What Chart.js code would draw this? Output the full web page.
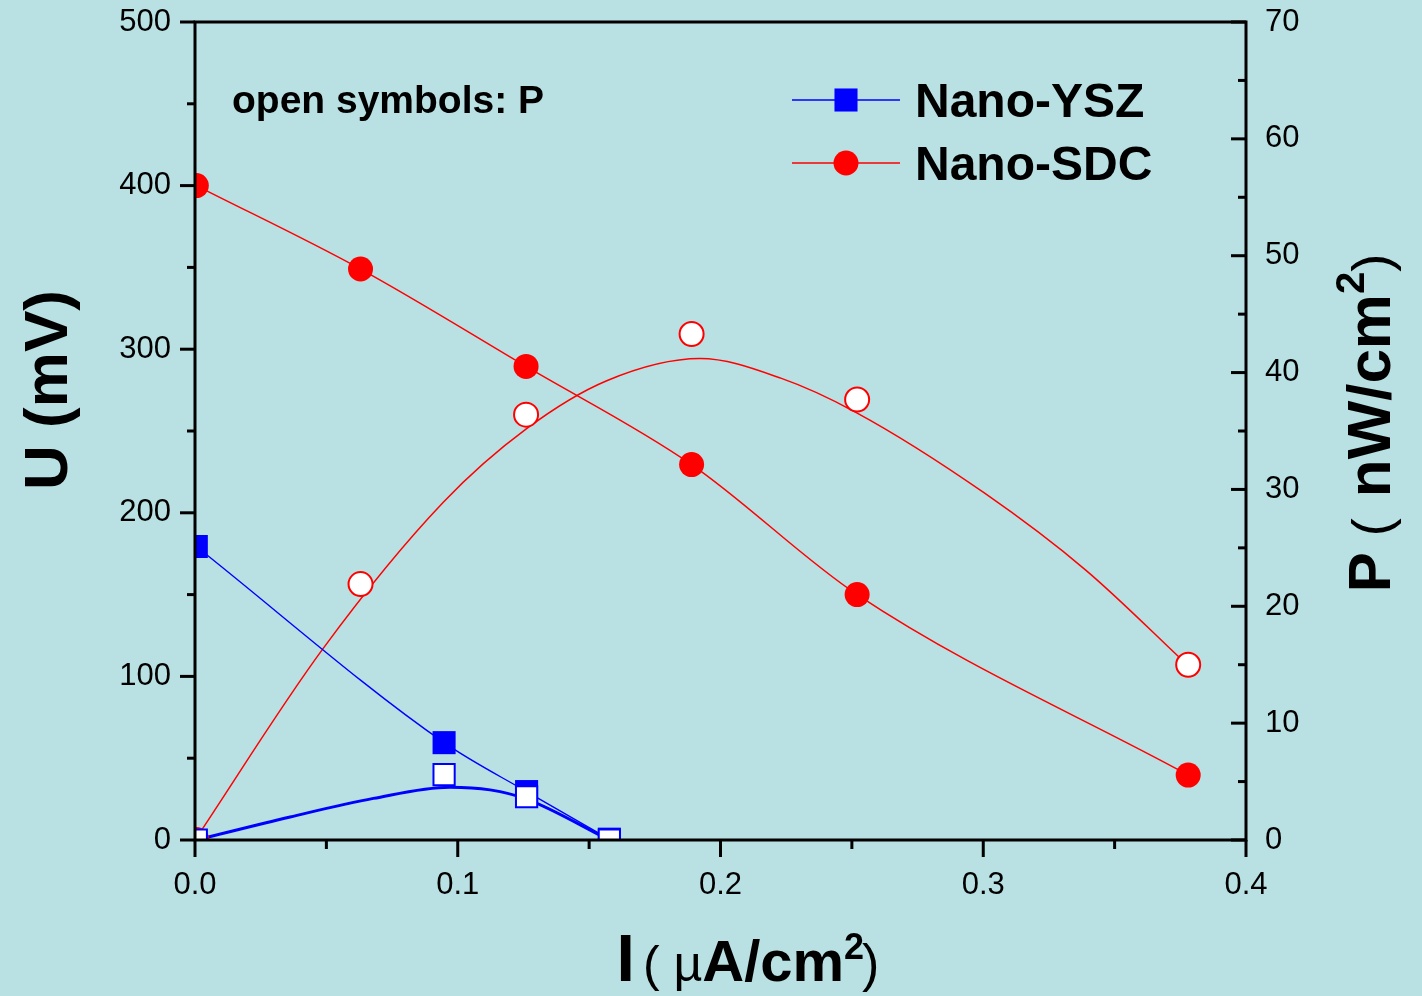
<!DOCTYPE html>
<html>
<head>
<meta charset="utf-8">
<script src="https://cdn.jsdelivr.net/npm/chart.js@4.4.1/dist/chart.umd.min.js"></script>
<style>
  html, body { margin: 0; padding: 0; background: #b9e0e2; }
  #wrap { width: 1422px; height: 996px; }
</style>
</head>
<body>
<div id="wrap"><canvas id="chart" width="1422" height="996"></canvas></div>
<script>
// I in uA/cm2, U in mV, P in nW/cm2
const iSDC = [0.0005, 0.063, 0.126, 0.189, 0.252, 0.378];
const uSDC = [400, 349, 289.5, 229.5, 150, 39.7];
const pSDC = [0, 21.9, 36.4, 43.3, 37.7, 15.0];

const iYSZ = [0.0005, 0.0948, 0.1262, 0.1577];
const uYSZ = [179.4, 59.5, 29.6, 0.5];
const pYSZ = [0, 5.6, 3.7, 0];

// fitted P curves
const iFitSDC = [0, 0.0488, 0.0945, 0.1262, 0.1567, 0.1922, 0.2232, 0.2515, 0.3004, 0.339, 0.3776];
const pFitSDC = [0, 16.4, 28.9, 35.2, 39.3, 41.2, 39.5, 36.6, 29.7, 23.1, 15.0];
const iFitYSZ = [0.0005, 0.0362, 0.0679, 0.097, 0.1123, 0.1262, 0.1577];
const pFitYSZ = [0, 1.97, 3.56, 4.52, 4.29, 3.5, 0];

const iTicks = [0, 0.1, 0.2, 0.3, 0.4];
const uTicks = [0, 100, 200, 300, 400, 500];
const pTicks = [0, 10, 20, 30, 40, 50, 60, 70];

const FONT = '"Liberation Sans", Arial, Helvetica, sans-serif';
const RED = '#ff0000';
const BLUE = '#0000ff';

const pts = (xs, ys) => xs.map((x, k) => ({ x: x, y: ys[k] }));
const minors = (t) => t.slice(1).map((v, k) => (v + t[k]) / 2);

function seg(ctx, x1, y1, x2, y2) {
    ctx.beginPath();
    ctx.moveTo(x1, y1);
    ctx.lineTo(x2, y2);
    ctx.stroke();
}

// draws a list of text runs centred on (0,0) after transform
function drawRuns(ctx, runs, x, y, rot) {
    ctx.save();
    ctx.translate(x, y);
    ctx.rotate(rot);
    ctx.textBaseline = 'alphabetic';
    ctx.textAlign = 'left';
    let total = 0;
    runs.forEach(r => { ctx.font = r.f + ' ' + FONT; r.w = ctx.measureText(r.t).width; total += r.w + (r.k || 0); });
    let cx = -total / 2;
    runs.forEach(r => {
        ctx.font = r.f + ' ' + FONT;
        ctx.fillText(r.t, cx, r.dy || 0);
        cx += r.w + (r.k || 0);
    });
    ctx.restore();
}

const framePlugin = {
    id: 'frame',
    afterDatasetsDraw(chart) {
        const { ctx, chartArea: a, scales } = chart;
        ctx.save();
        ctx.strokeStyle = '#000';
        ctx.lineWidth = 3;
        ctx.strokeRect(a.left, a.top, a.right - a.left, a.bottom - a.top);

        // left axis, ticks outward
        uTicks.forEach(v => { const y = scales.y.getPixelForValue(v); seg(ctx, a.left - 15, y, a.left, y); });
        minors(uTicks).forEach(v => { const y = scales.y.getPixelForValue(v); seg(ctx, a.left - 8, y, a.left, y); });
        // bottom axis, ticks outward
        iTicks.forEach(v => { const x = scales.x.getPixelForValue(v); seg(ctx, x, a.bottom, x, a.bottom + 17); });
        minors(iTicks).forEach(v => { const x = scales.x.getPixelForValue(v); seg(ctx, x, a.bottom, x, a.bottom + 9); });
        // right axis, ticks inward
        pTicks.forEach(v => { const y = scales.y2.getPixelForValue(v); seg(ctx, a.right - 15, y, a.right, y); });
        minors(pTicks).forEach(v => { const y = scales.y2.getPixelForValue(v); seg(ctx, a.right - 8, y, a.right, y); });
        ctx.restore();
    },
    afterDraw(chart) {
        const { ctx } = chart;
        ctx.save();
        ctx.fillStyle = '#000';

        // note
        ctx.font = 'bold 39px ' + FONT;
        ctx.textBaseline = 'alphabetic';
        ctx.fillText('open symbols: P', 232, 113);

        // legend
        const items = [
            { ds: chart.data.datasets[2], y: 100, base: 117 },
            { ds: chart.data.datasets[3], y: 163, base: 180 }
        ];
        items.forEach(it => {
            const d = it.ds;
            ctx.strokeStyle = d.borderColor;
            ctx.lineWidth = d.borderWidth;
            seg(ctx, 792, it.y, 900, it.y);
            ctx.fillStyle = d.pointBackgroundColor;
            Chart.helpers.drawPoint(ctx, { pointStyle: d.pointStyle, radius: d.pointRadius, rotation: 0, borderWidth: 0 }, 846, it.y);
            ctx.fillStyle = '#000';
            ctx.font = 'bold 48px ' + FONT;
            ctx.fillText(d.label, 915, it.base);
        });

        // axis titles
        drawRuns(ctx, [
            { t: 'I', f: 'bold 66px', k: 8 },
            { t: '( ', f: '50px' },
            { t: '\u00b5', f: '50px' },
            { t: 'A/cm', f: 'bold 58px' },
            { t: '2', f: 'bold 36px', dy: -22, k: -2 },
            { t: ')', f: '52px' }
        ], 748, 981, 0);

        drawRuns(ctx, [
            { t: 'U (mV)', f: 'bold 62px' }
        ], 67, 390, -Math.PI / 2);

        drawRuns(ctx, [
            { t: 'P', f: 'bold 60px', k: 16 },
            { t: '( ', f: '54px', k: 6 },
            { t: 'nW/cm', f: 'bold 62px' },
            { t: '2', f: 'bold 40px', dy: -26 },
            { t: ')', f: '54px' }
        ], 1390, 423, -Math.PI / 2);

        ctx.restore();
    }
};

const tickFont = { family: FONT, size: 31 };
const noPad = s => { s.paddingTop = 0; s.paddingBottom = 0; };

new Chart(document.getElementById('chart'), {
    type: 'line',
    data: {
        datasets: [
            {
                label: 'YSZ P', data: pts(iYSZ, pYSZ), yAxisID: 'y2', showLine: false,
                pointStyle: 'rect', pointRadius: 15, pointBackgroundColor: '#fff',
                pointBorderColor: BLUE, pointBorderWidth: 2, clip: 0
            },
            {
                label: 'SDC P', data: pts(iSDC, pSDC), yAxisID: 'y2', showLine: false,
                pointStyle: 'circle', pointRadius: 12, pointBackgroundColor: '#fff',
                pointBorderColor: RED, pointBorderWidth: 2, clip: 0
            },
            {
                label: 'Nano-YSZ', data: pts(iYSZ, uYSZ), yAxisID: 'y',
                borderColor: BLUE, borderWidth: 1.4, cubicInterpolationMode: 'monotone',
                pointStyle: 'rect', pointRadius: 16.3, pointBackgroundColor: BLUE,
                pointBorderWidth: 0, clip: 0
            },
            {
                label: 'Nano-SDC', data: pts(iSDC, uSDC), yAxisID: 'y',
                borderColor: RED, borderWidth: 1.5, cubicInterpolationMode: 'monotone',
                pointStyle: 'circle', pointRadius: 12.5, pointBackgroundColor: RED,
                pointBorderWidth: 0, clip: 0
            },
            {
                label: 'YSZ fit', data: pts(iFitYSZ, pFitYSZ), yAxisID: 'y2',
                borderColor: BLUE, borderWidth: 3, cubicInterpolationMode: 'monotone',
                pointRadius: 0, clip: 0
            },
            {
                label: 'SDC fit', data: pts(iFitSDC, pFitSDC), yAxisID: 'y2',
                borderColor: RED, borderWidth: 1.5, cubicInterpolationMode: 'monotone',
                pointRadius: 0, clip: 0
            }
        ]
    },
    options: {
        responsive: false,
        maintainAspectRatio: false,
        devicePixelRatio: 1,
        animation: false,
        events: [],
        layout: { padding: { top: 22, left: 0, right: 0, bottom: 0 } },
        plugins: { legend: { display: false }, tooltip: { enabled: false } },
        scales: {
            x: {
                type: 'linear', min: 0, max: 0.4,
                afterBuildTicks: s => { s.ticks = iTicks.map(v => ({ value: v })); },
                afterFit: s => { s.height = 156; s.paddingLeft = 0; s.paddingRight = 0; },
                grid: { display: false, drawTicks: false },
                border: { display: false },
                ticks: { font: tickFont, color: '#000', padding: 27, maxRotation: 0,
                    callback: v => v.toFixed(1) }
            },
            y: {
                type: 'linear', position: 'left', min: 0, max: 500,
                afterBuildTicks: s => { s.ticks = uTicks.map(v => ({ value: v })); },
                afterFit: s => { s.width = 195; noPad(s); },
                grid: { display: false, drawTicks: false },
                border: { display: false },
                ticks: { font: tickFont, color: '#000', padding: 24 }
            },
            y2: {
                type: 'linear', position: 'right', min: 0, max: 70,
                afterBuildTicks: s => { s.ticks = pTicks.map(v => ({ value: v })); },
                afterFit: s => { s.width = 176; noPad(s); },
                grid: { display: false, drawTicks: false },
                border: { display: false },
                ticks: { font: tickFont, color: '#000', padding: 19 }
            }
        }
    },
    plugins: [framePlugin]
});
</script>
</body>
</html>
